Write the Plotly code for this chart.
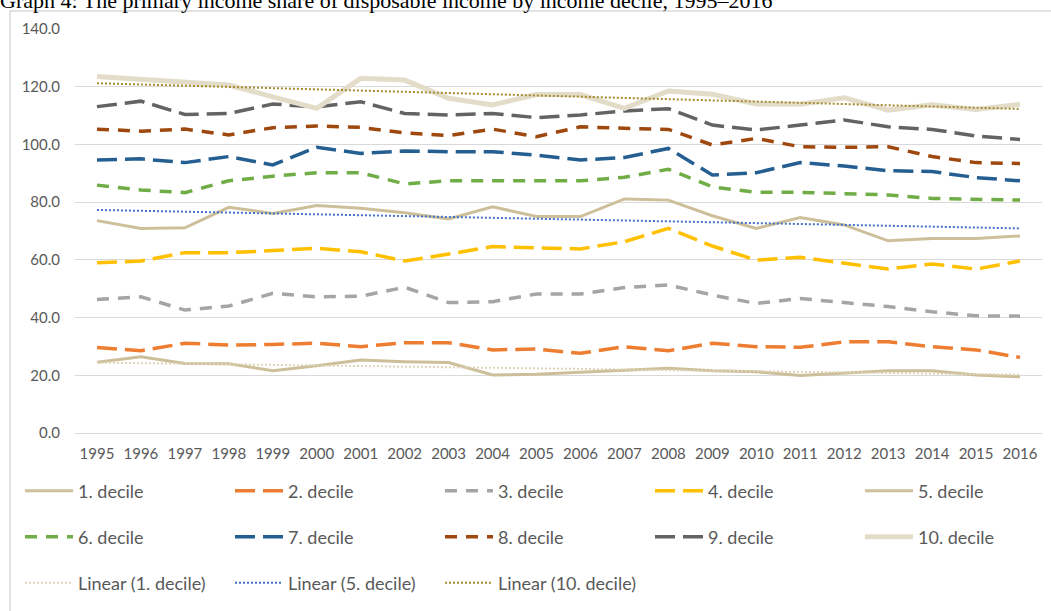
import plotly.graph_objects as go

years = [str(y) for y in range(1995, 2017)]

d1 = [24.5, 26.4, 24.1, 24.0, 21.6, 23.3, 25.3, 24.7, 24.4, 20.1, 20.4, 21.0, 21.8, 22.4, 21.6, 21.2, 19.9, 20.7, 21.6, 21.6, 20.1, 19.5]
d2 = [29.6, 28.5, 31.1, 30.5, 30.7, 31.1, 29.9, 31.3, 31.3, 28.8, 29.1, 27.6, 29.9, 28.5, 31.1, 29.9, 29.7, 31.6, 31.6, 29.9, 28.8, 26.2]
d3 = [46.3, 47.2, 42.6, 44.0, 48.4, 47.2, 47.4, 50.5, 45.2, 45.5, 48.2, 48.2, 50.4, 51.3, 47.8, 44.9, 46.6, 45.2, 43.8, 42.0, 40.6, 40.5]
d4 = [59.0, 59.6, 62.5, 62.5, 63.2, 64.0, 62.8, 59.6, 62.0, 64.6, 64.2, 63.8, 66.3, 70.9, 64.8, 59.9, 60.9, 58.8, 56.8, 58.6, 56.8, 59.6]
d5 = [73.6, 70.9, 71.1, 78.2, 76.1, 78.8, 77.9, 76.3, 74.2, 78.4, 75.0, 75.0, 81.1, 80.7, 75.3, 70.9, 74.7, 72.1, 66.6, 67.4, 67.4, 68.3]
d6 = [85.9, 84.2, 83.3, 87.4, 89.0, 90.2, 90.2, 86.3, 87.4, 87.4, 87.4, 87.4, 88.6, 91.4, 85.3, 83.4, 83.4, 83.0, 82.5, 81.3, 81.1, 80.7]
d7 = [94.6, 95.0, 93.7, 95.8, 92.9, 99.0, 96.9, 97.7, 97.5, 97.5, 96.3, 94.6, 95.5, 98.6, 89.4, 90.2, 93.7, 92.5, 90.9, 90.6, 88.5, 87.4]
d8 = [105.3, 104.6, 105.3, 103.3, 105.8, 106.4, 105.9, 104.0, 103.1, 105.3, 102.7, 106.1, 105.6, 105.2, 99.8, 102.1, 99.2, 99.0, 99.2, 95.8, 93.7, 93.4]
d9 = [113.1, 115.0, 110.4, 110.7, 114.0, 113.0, 114.8, 110.7, 110.2, 110.7, 109.3, 110.2, 111.6, 112.4, 106.7, 105.0, 106.7, 108.5, 106.1, 105.2, 102.9, 101.7]
d10 = [123.5, 122.5, 121.2, 120.6, 116.5, 112.5, 122.9, 122.3, 116.0, 113.7, 117.3, 117.3, 112.5, 118.5, 117.4, 114.0, 113.9, 116.2, 111.9, 113.7, 112.1, 113.9]

trend_years = ["1995", "2016"]
lin1 = [24.4, 20.2]
lin5 = [77.3, 70.9]
lin10 = [121.2, 112.3]

names = ["1. decile", "2. decile", "3. decile", "4. decile", "5. decile",
         "6. decile", "7. decile", "8. decile", "9. decile", "10. decile"]
series = [d1, d2, d3, d4, d5, d6, d7, d8, d9, d10]

LONG = "20px,8px"
MED = "12px,9px"
styles = [
    dict(color="#CDBF99", width=3, dash="solid"),
    dict(color="#ED7D31", width=3.5, dash=LONG),
    dict(color="#A5A5A5", width=3.5, dash=MED),
    dict(color="#FFC000", width=3.5, dash=LONG),
    dict(color="#CDBF99", width=3, dash="solid"),
    dict(color="#70AD47", width=3.5, dash=MED),
    dict(color="#255E91", width=3.5, dash=LONG),
    dict(color="#9E480E", width=3.5, dash=MED),
    dict(color="#636363", width=3.5, dash=LONG),
    dict(color="#E3DCC9", width=5, dash="solid"),
]
legends = ["legend"] * 5 + ["legend2"] * 5

fig = go.Figure()
for i, (name, vals, st, lg) in enumerate(zip(names, series, styles, legends)):
    extra = {"legendwidth": 95} if i in (4, 9) else {}
    fig.add_trace(go.Scatter(x=years, y=vals, mode="lines", name=name,
                             line=st, legend=lg, **extra))

for name, vals, col in [("Linear (1. decile)", lin1, "#DDD3B8"),
                        ("Linear (5. decile)", lin5, "#4472C4"),
                        ("Linear (10. decile)", lin10, "#A68A2E")]:
    fig.add_trace(go.Scatter(x=trend_years, y=vals, mode="lines", name=name,
                             line=dict(color=col, width=2, dash="2px,2px"),
                             legend="legend3"))

W, H = 1051, 611
L, R, T, B = 75, 9, 29, 178
pw, ph = W - L - R, H - T - B

def px(x):
    return (x - L) / pw

def py(y):
    return (H - B - y) / ph

font = "Lato, 'Open Sans', sans-serif"
leg_common = dict(orientation="h", xanchor="left", yanchor="middle",
                  entrywidth=147, entrywidthmode="pixels", itemwidth=48,
                  font=dict(family=font, size=18, color="#595959"),
                  bgcolor="rgba(0,0,0,0)", itemclick=False)

fig.update_layout(
    width=W, height=H,
    margin=dict(l=L, r=R, t=T, b=B),
    paper_bgcolor="white", plot_bgcolor="white",
    showlegend=True,
    legend=dict(x=px(20), y=py(491), **leg_common),
    legend2=dict(x=px(20), y=py(537), **leg_common),
    legend3=dict(x=px(20), y=py(583), **leg_common),
    xaxis=dict(type="category", range=[-0.5, 21.5], showgrid=False,
               showline=True, linecolor="#D9D9D9", linewidth=1,
               ticks="", ticklabelstandoff=7,
               tickfont=dict(family=font, size=15, color="#595959")),
    yaxis=dict(range=[0, 140], dtick=20, tickformat=".1f", showgrid=True,
               gridcolor="#D9D9D9", gridwidth=1, zeroline=False,
               ticks="", ticklabelstandoff=14,
               tickfont=dict(family=font, size=15, color="#595959")),
    shapes=[dict(type="rect", xref="paper", yref="paper",
                 x0=px(10), x1=px(W + 2), y0=py(11), y1=py(H + 2),
                 line=dict(color="#D9D9D9", width=1.5), layer="below")],
    annotations=[dict(text="Graph 4: The primary income share of disposable income by income decile, 1995\u20132016",
                      xref="paper", yref="paper", x=px(-2), y=py(15),
                      xanchor="left", yanchor="bottom", showarrow=False,
                      font=dict(family="Liberation Serif, 'Times New Roman', serif",
                                size=22, color="black"))],
)

fig.write_html("out.html", config={"displayModeBar": False},
               post_script="document.body.style.margin='0';")
